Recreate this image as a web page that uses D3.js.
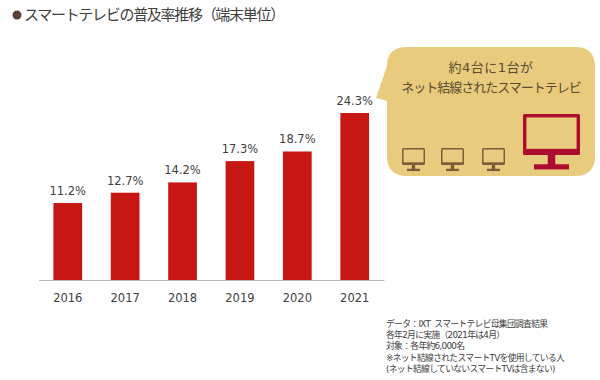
<!DOCTYPE html>
<html>
<head>
<meta charset="utf-8">
<script src="https://cdn.jsdelivr.net/npm/d3@7"></script>
<style>
  html, body { margin: 0; padding: 0; background: #fff; }
  svg { display: block; }
  text { font-family: "DejaVu Sans", "Noto Sans CJK JP", sans-serif; }
</style>
</head>
<body>
<div id="chart"></div>
<script>
const years = ["2016", "2017", "2018", "2019", "2020", "2021"];
const share = [11.2, 12.7, 14.2, 17.3, 18.7, 24.3];
const titleText = "スマートテレビの普及率推移（端末単位）";
const calloutLines = ["約4台に1台が", "ネット結線されたスマートテレビ"];
const noteLines = [
  "データ：IXT  スマートテレビ母集団調査結果",
  "各年2月に実施（2021年は4月）",
  "対象：各年約6,000名",
  "※ネット結線されたスマートTVを使用している人",
  "(ネット結線していないスマートTVは含まない)"
];

const width = 600, height = 380;
const jpFont = '"Noto Sans CJK JP", sans-serif';
const bubbleColor = "#e8cb7c";

const svg = d3.select("#chart").append("svg")
  .attr("width", width)
  .attr("height", height);

// title
svg.append("circle").attr("cx", 17).attr("cy", 15).attr("r", 4.5).attr("fill", "#5b4038");
svg.append("text").attr("x", 24).attr("y", 20)
  .attr("font-size", 15)
  .style("font-family", jpFont)
  .style("letter-spacing", "-1.3px")
  .attr("fill", "#404040")
  .text(titleText);

// bars
const x = d3.scaleBand().domain(years).range([38.5, 384])
  .paddingInner(0.5).paddingOuter(0.26);
const y = d3.scaleLinear().domain([0, 24.3]).range([280, 113]);

svg.append("g").selectAll("rect")
  .data(share)
  .enter()
  .append("rect")
  .attr("x", (d, i) => x(years[i]))
  .attr("y", d => y(d))
  .attr("width", x.bandwidth())
  .attr("height", d => y(0) - y(d))
  .attr("fill", "#c71712");

svg.append("g").selectAll("text")
  .data(share)
  .enter()
  .append("text")
  .attr("x", (d, i) => x(years[i]) + x.bandwidth() / 2)
  .attr("y", d => y(d) - 8)
  .attr("text-anchor", "middle")
  .attr("font-size", 11.5)
  .attr("fill", "#404040")
  .text(d => d.toFixed(1) + "%");

const xAxis = d3.axisBottom(x).tickSize(0).tickPadding(14);
const axis = svg.append("g").attr("transform", `translate(0,${y(0)})`).call(xAxis);
axis.select(".domain").attr("stroke", "#b8b8b8").attr("stroke-width", 1);
axis.selectAll("text")
  .attr("font-size", 11.5)
  .attr("fill", "#404040")
  .style("font-family", '"DejaVu Sans", sans-serif');

// callout
svg.append("path")
  .attr("d", "M407 47 H575 Q595 47 595 67 V156 Q595 176 575 176 H407 Q387 176 387 156 V101 L376 98 L387 66 Q387 47 407 47 Z")
  .attr("fill", bubbleColor);

svg.append("g").selectAll("text")
  .data(calloutLines)
  .enter()
  .append("text")
  .attr("x", 491)
  .attr("y", (d, i) => 72 + i * 20)
  .attr("text-anchor", "middle")
  .attr("font-size", 13)
  .style("letter-spacing", (d, i) => i ? "-1px" : "0.5px")
  .attr("fill", "#5a4a30")
  .text(d => d);

// monitors: three plain sets and the connected one
function monitor(g, left, top, w, h, standH, baseW, color) {
  const border = Math.max(1.5, w * 0.06);
  g.append("rect").attr("x", left).attr("y", top).attr("width", w).attr("height", h).attr("rx", 1.5)
    .attr("fill", color);
  g.append("rect").attr("x", left + border).attr("y", top + border)
    .attr("width", w - 2 * border).attr("height", h - border * 2.8)
    .attr("fill", bubbleColor);
  g.append("rect").attr("x", left + w / 2 - border * 1.1).attr("y", top + h)
    .attr("width", border * 2.2).attr("height", standH).attr("fill", color);
  g.append("rect").attr("x", left + w / 2 - baseW / 2).attr("y", top + h + standH - border * 0.8)
    .attr("width", baseW).attr("height", border * 1.5).attr("fill", color);
}
const icons = svg.append("g");
[402, 441, 482].forEach(left => monitor(icons, left, 148, 23, 17, 5, 13, "#7d5c3a"));
monitor(icons, 523, 114, 57, 41, 12, 35, "#ab0c2f");

// footnote
svg.append("g").selectAll("text")
  .data(noteLines)
  .enter()
  .append("text")
  .attr("x", 386)
  .attr("y", (d, i) => 327 + i * 11.2)
  .attr("font-size", 8.8)
  .style("letter-spacing", "-0.7px")
  .style("white-space", "pre")
  .attr("fill", "#404040")
  .text(d => d);
</script>
</body>
</html>
